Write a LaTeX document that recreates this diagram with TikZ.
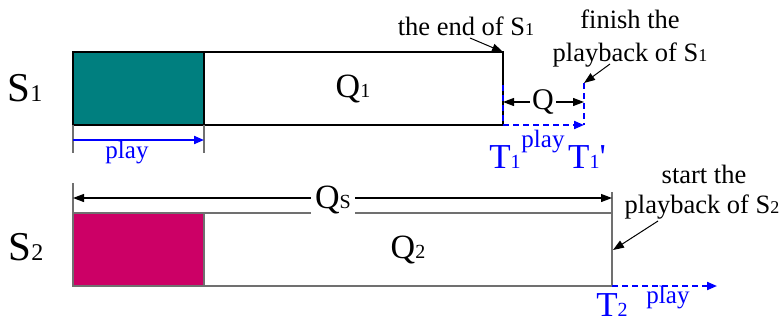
\documentclass[tikz,border=0pt]{standalone}
\usepackage{fontspec}
\setmainfont{Liberation Serif}
\usetikzlibrary{arrows.meta}
\definecolor{tealc}{HTML}{007F7F}
\definecolor{magc}{HTML}{CC0066}
\definecolor{boxgray}{HTML}{707070}
\newcommand\subsz[2]{{\fontsize{#1}{#1}\selectfont #2}}
\begin{document}
\begin{tikzpicture}[x=1pt,y=-1pt,
  txt/.style={inner sep=0pt,anchor=base},
  blk/.style={line width=1.2pt,draw=black},
  gry/.style={line width=1.2pt,draw=boxgray},
  tipk/.style={-{Triangle[length=11pt,width=8pt]}},
  tipb/.style={-{Triangle[length=10pt,width=8pt]}},
  bdash/.style={draw=blue,line width=2pt,dash pattern=on 6pt off 4pt},
  bsolid/.style={draw=blue,line width=2pt},
  big/.style={font=\fontsize{41}{43}\selectfont},
  mid/.style={font=\fontsize{34}{36}\selectfont},
  tee/.style={text=blue,font=\fontsize{35}{37}\selectfont},
  ply/.style={text=blue,font=\fontsize{25}{27}\selectfont},
  ann/.style={font=\fontsize{26.5}{28}\selectfont},
]
\useasboundingbox (0,0) rectangle (783,322);
% ---------- S1 ----------
\coordinate (a1) at (73,52);
\coordinate (b1) at (204,125);
\coordinate (c1) at (503,52);
\coordinate (d1) at (503,125);
\fill[tealc] (a1) rectangle (b1);
\draw[blk] (a1) rectangle (d1);
\draw[blk] (204,52) -- (b1);
\coordinate (t1a) at (73,153);
\coordinate (t1b) at (204,153);
\draw[gry] (73,125) -- (t1a);
\draw[gry] (b1) -- (t1b);
\coordinate (p1a) at (73,140);
\coordinate (p1b) at (204,140);
\draw[bsolid,tipb] (p1a) -- (p1b);
\node[txt,ply] (play1) at (127,158) {play};
\node[txt,big] (s1) at (25,101) {S\subsz{24}{1}};
\node[txt,mid] (q1) at (353,97) {Q\subsz{20}{1}};
% dashed extension
\coordinate (e1) at (503,85);
\coordinate (f1) at (584,83);
\coordinate (g1) at (584,125);
\draw[bdash] (e1) -- (d1);
\draw[bdash] (f1) -- (g1);
\draw[bdash,tipb] (d1) -- (g1);
\node[txt,font=\fontsize{30}{32}\selectfont,fill=white,inner xsep=2pt] (q) at (543,109) {Q};
\coordinate (qa) at (503,102);
\coordinate (qb) at (584,102);
\draw[blk,tipk] (q.west |- qa) -- (qa);
\draw[blk,tipk] (q.east |- qb) -- (qb);
\node[txt,ply] (play2) at (543,147) {play};
\node[txt,tee] (T1) at (505,168) {T\subsz{20}{1}};
\node[txt,tee] (T1p) at (587,168) {T\subsz{20}{1}\textquotesingle};
% annotations S1
\node[txt,ann] (endS1) at (466,35) {the end of S\subsz{18}{1}};
\coordinate (endfrom) at (470,38);
\draw[line width=1pt,tipk] (endfrom) -- (c1);
\node[txt,ann] (fin1) at (630,28) {finish the};
\node[txt,ann] (fin2) at (630,61) {playback of S\subsz{18}{1}};
\coordinate (finfrom) at (610,64);
\draw[line width=1pt,tipk] (finfrom) -- (f1);
% ---------- S2 ----------
\coordinate (a2) at (73,213);
\coordinate (b2) at (204,286);
\coordinate (d2) at (612,286);
\fill[magc] (a2) rectangle (b2);
\draw[gry] (a2) rectangle (d2);
\draw[gry] (204,213) -- (b2);
\coordinate (k1) at (73,183);
\coordinate (k2) at (612,192);
\draw[gry] (k1) -- (a2);
\draw[gry] (k2) -- (612,213);
\node[txt,big] (s2) at (26,260) {S\subsz{24}{2}};
\node[txt,mid] (q2) at (408,258) {Q\subsz{20}{2}};
\node[txt,mid,fill=white,inner xsep=4pt] (qs) at (333,208) {Q\subsz{20}{S}};
\coordinate (qsa) at (73,198);
\coordinate (qsb) at (612,198);
\draw[blk,tipk] (qs.west |- qsa) -- (qsa);
\draw[blk,tipk] (qs.east |- qsb) -- (qsb);
\node[txt,ann] (st1) at (704,183) {start the};
\node[txt,ann] (st2) at (702,213) {playback of S\subsz{18}{2}};
\coordinate (stfrom) at (658,221);
\coordinate (stto) at (613,250);
\draw[line width=1pt,tipk] (stfrom) -- (stto);
\coordinate (p3b) at (717,286);
\draw[bdash,tipb] (d2) -- (p3b);
\node[txt,ply] (play3) at (668,303) {play};
\node[txt,tee] (T2) at (612,316) {T\subsz{20}{2}};
\end{tikzpicture}
\end{document}
